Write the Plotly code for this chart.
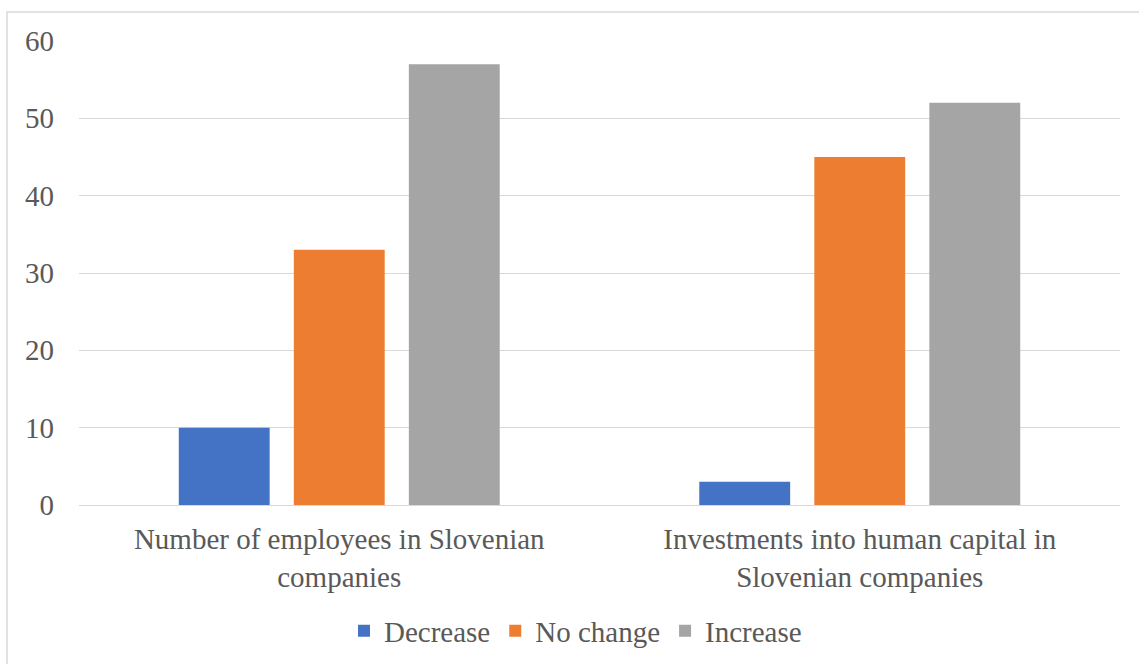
import plotly.graph_objects as go

categories = ["Number of employees in Slovenian<br>companies",
              "Investments into human capital in<br>Slovenian companies"]
series_names = ["Decrease", "No change", "Increase"]
decrease = [10, 3]
no_change = [33, 45]
increase = [57, 52]
y_ticks = [0, 10, 20, 30, 40, 50, 60]

colors = ["#4472C4", "#ED7D31", "#A5A5A5"]
FONT = "'Times New Roman', 'Liberation Serif', Tinos, 'DejaVu Serif', serif"
TXT = "#595959"

fig = go.Figure()
for name, vals, c in zip(series_names, [decrease, no_change, increase], colors):
    fig.add_trace(go.Bar(x=categories, y=vals, name=name, marker=dict(color=c, line=dict(width=0))))

W, H = 1139, 664
L, R, T, B = 79, 19, 41, 159
pw, ph = W - L - R, H - T - B

def px_x(p):
    return (p - L) / pw

def px_y(p):
    return (H - B - p) / ph

fig.update_layout(
    width=W, height=H,
    margin=dict(l=L, r=R, t=T, b=B, autoexpand=False),
    paper_bgcolor="white", plot_bgcolor="white",
    font=dict(family=FONT, size=29, color=TXT),
    barmode="group",
    bargap=0.337,
    bargroupgap=0.21,
    showlegend=True,
    legend=dict(orientation="h", x=px_x(344), xanchor="left", y=px_y(631), yanchor="middle",
                font=dict(family=FONT, size=29, color=TXT), itemwidth=30,
                bgcolor="rgba(0,0,0,0)", traceorder="normal"),
    xaxis=dict(showgrid=False, showline=False, ticks="", automargin=False,
               tickfont=dict(family=FONT, size=29, color=TXT), ticklabelstandoff=14),
    yaxis=dict(range=[0, 60], tickvals=y_ticks, showgrid=True, gridcolor="#D9D9D9", gridwidth=1.3,
               zeroline=True, zerolinecolor="#D9D9D9", zerolinewidth=1.3, showline=False, ticks="",
               automargin=False, tickfont=dict(family=FONT, size=29, color=TXT), ticklabelstandoff=24),
    shapes=[dict(type="rect", xref="paper", yref="paper",
                 x0=px_x(7), x1=px_x(1160), y0=px_y(690), y1=px_y(12),
                 line=dict(color="#D9D9D9", width=1.5), fillcolor="rgba(0,0,0,0)", layer="below")],
)

fig.write_html("out.html")
